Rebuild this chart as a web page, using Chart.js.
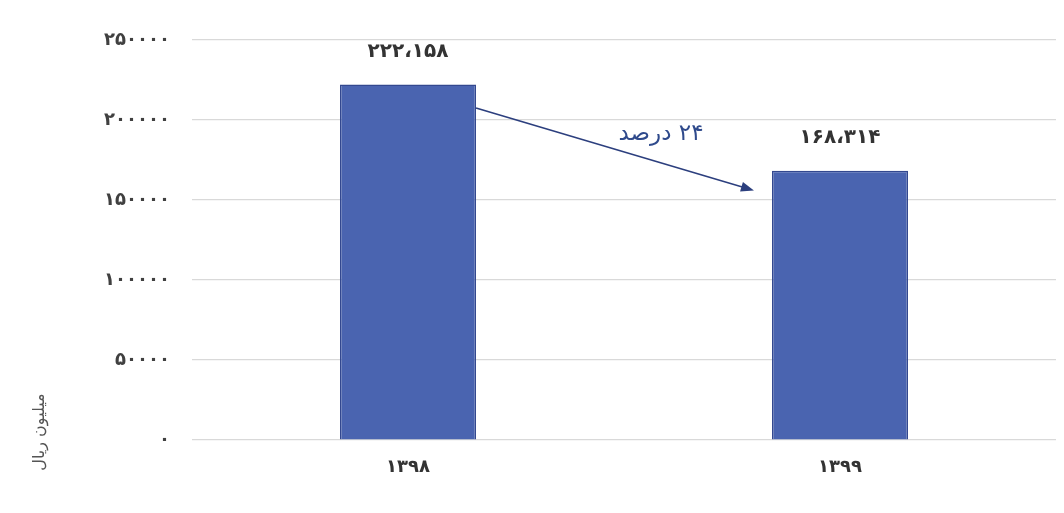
<!DOCTYPE html>
<html>
<head>
<meta charset="utf-8">
<script src="https://cdn.jsdelivr.net/npm/chart.js@4"></script>
<style>
  html, body { margin: 0; padding: 0; background: #ffffff; }
  #wrap { width: 1064px; height: 513px; position: relative; }
</style>
</head>
<body>
<div id="wrap"><canvas id="c" width="1064" height="513"></canvas></div>
<script>
// ---- data ----
const categories = ['۱۳۹۸', '۱۳۹۹'];
const values = [222158, 168314];
const valueLabels = ['۲۲۲،۱۵۸', '۱۶۸،۳۱۴'];
const yTickValues = [0, 50000, 100000, 150000, 200000, 250000];
const yTickLabels = ['۰', '۵۰۰۰۰', '۱۰۰۰۰۰', '۱۵۰۰۰۰', '۲۰۰۰۰۰', '۲۵۰۰۰۰'];
const yAxisTitle = 'میلیون ریال';
const changeLabel = '۲۴ درصد';
const arrowStartValue = 207500;
const arrowEndValue = 156000;
const arrowLabelValue = 191000;

const FONT = '"DejaVu Sans", sans-serif';

const spacingPlugin = {
  id: 'spacingPlugin',
  beforeDraw(chart) { chart.ctx.letterSpacing = '2px'; },
  beforeDatasetsDraw(chart) { chart.ctx.letterSpacing = '0px'; }
};

const labelsPlugin = {
  id: 'labelsPlugin',
  afterDatasetsDraw(chart) {
    const ctx = chart.ctx;
    const meta = chart.getDatasetMeta(0);
    const y = chart.scales.y;
    ctx.save();
    ctx.letterSpacing = '0px';
    ctx.direction = 'ltr';
    // value labels
    ctx.fillStyle = '#333333';
    ctx.font = 'bold 20px ' + FONT;
    ctx.textAlign = 'center';
    ctx.textBaseline = 'middle';
    meta.data.forEach((bar, i) => {
      ctx.fillText(valueLabels[i], bar.x, bar.y - 33);
    });
    // arrow
    const b0 = meta.data[0], b1 = meta.data[1];
    const x0 = b0.x + b0.width / 2;
    const y0 = y.getPixelForValue(arrowStartValue);
    const x1 = b1.x - b1.width / 2 - 18;
    const y1 = y.getPixelForValue(arrowEndValue);
    const ang = Math.atan2(y1 - y0, x1 - x0);
    const headLen = 13, headW = 5;
    ctx.strokeStyle = '#2c3f7e';
    ctx.fillStyle = '#2c3f7e';
    ctx.lineWidth = 1.6;
    ctx.beginPath();
    ctx.moveTo(x0, y0);
    ctx.lineTo(x1 - Math.cos(ang) * headLen * 0.8, y1 - Math.sin(ang) * headLen * 0.8);
    ctx.stroke();
    ctx.beginPath();
    ctx.moveTo(x1, y1);
    ctx.lineTo(x1 - Math.cos(ang) * headLen - Math.sin(ang) * headW,
               y1 - Math.sin(ang) * headLen + Math.cos(ang) * headW);
    ctx.lineTo(x1 - Math.cos(ang) * headLen + Math.sin(ang) * headW,
               y1 - Math.sin(ang) * headLen - Math.cos(ang) * headW);
    ctx.closePath();
    ctx.fill();
    // change label
    ctx.fillStyle = '#2f4a8c';
    ctx.font = '23px ' + FONT;
    ctx.direction = 'rtl';
    ctx.textAlign = 'center';
    ctx.fillText(changeLabel, (x0 + x1) / 2 + 46, y.getPixelForValue(arrowLabelValue));
    // y axis title
    ctx.save();
    ctx.translate(40, 432);
    ctx.rotate(-Math.PI / 2);
    ctx.fillStyle = '#555555';
    ctx.font = '16px ' + FONT;
    ctx.direction = 'rtl';
    ctx.textAlign = 'center';
    ctx.textBaseline = 'middle';
    ctx.fillText(yAxisTitle, 0, 0);
    ctx.restore();
    ctx.restore();
  }
};

new Chart(document.getElementById('c'), {
  type: 'bar',
  data: {
    labels: categories,
    datasets: [{
      data: values,
      backgroundColor: '#4a64b0',
      borderColor: '#33488f',
      borderWidth: 1.5,
      barPercentage: 0.315,
      categoryPercentage: 1
    }]
  },
  options: {
    responsive: false,
    animation: false,
    devicePixelRatio: 1,
    layout: { padding: { top: 40, right: 8, bottom: 0, left: 0 } },
    plugins: { legend: { display: false }, tooltip: { enabled: false } },
    scales: {
      x: {
        grid: { display: false, drawTicks: false },
        border: { display: false },
        ticks: { color: '#333333', font: { family: FONT, size: 18, weight: 'bold' }, padding: 17 },
        afterFit(scale) { scale.height = 73; }
      },
      y: {
        min: 0,
        max: 250000,
        afterBuildTicks(scale) { scale.ticks = yTickValues.map(v => ({ value: v })); },
        grid: { color: '#d9d9d9', lineWidth: 1.2, drawTicks: false },
        border: { display: false },
        ticks: {
          color: '#404040',
          font: { family: FONT, size: 18, weight: 'bold' },
          padding: 22,
          callback(value) {
            const i = yTickValues.indexOf(value);
            return i >= 0 ? yTickLabels[i] : '';
          }
        },
        afterFit(scale) { scale.width = 192; }
      }
    }
  },
  plugins: [spacingPlugin, labelsPlugin]
});
</script>
</body>
</html>
